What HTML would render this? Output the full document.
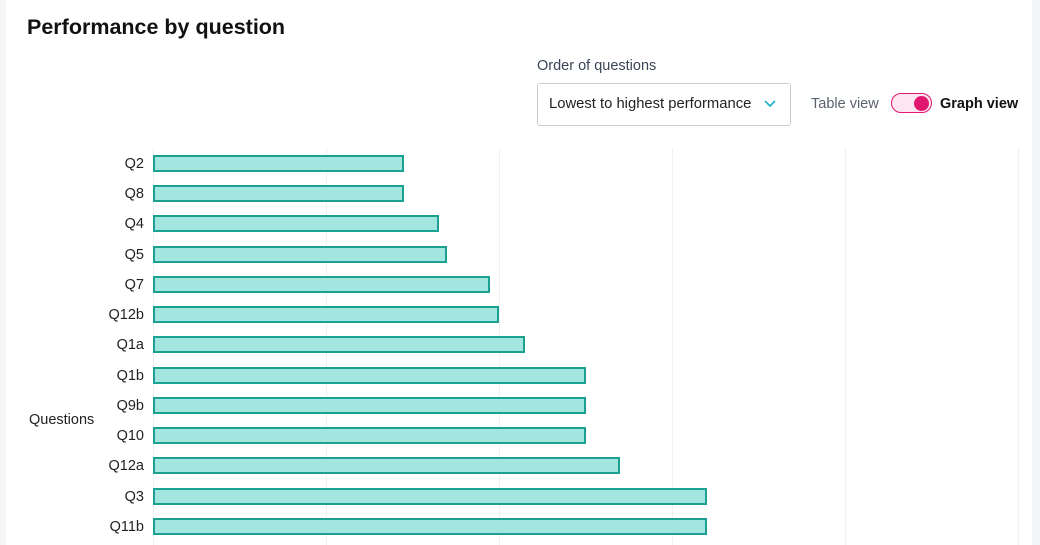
<!DOCTYPE html>
<html><head><style>
body{margin:0;width:1040px;height:545px;overflow:hidden;background:#f4f5f7;font-family:"Liberation Sans",sans-serif;position:relative}
.panel{position:absolute;left:6px;top:0;width:1026px;height:545px;background:#fff}
.a{position:absolute;white-space:nowrap}
.g{position:absolute;top:148px;height:397px;width:1px;background:#eef0f2}
.bar{position:absolute;left:153px;height:13px;background:#a3e5df;border:2px solid #1aa192;box-sizing:content-box}
.lab{position:absolute;right:896px;font-size:14.5px;color:#222;line-height:16px;margin-top:1px}
</style></head><body>
<div class="panel"></div>
<div class="a" style="left:27px;top:15px;font-size:21.5px;font-weight:bold;color:#111">Performance by question</div>
<div class="a" style="left:537px;top:58px;font-size:14.5px;color:#3a4556">Order of questions</div>
<div class="a" style="left:537px;top:83px;width:252px;height:41px;border:1px solid #c9ced6;border-radius:3px;box-sizing:content-box"></div>
<div class="a" style="left:549px;top:96px;font-size:14.8px;color:#222">Lowest to highest performance</div>
<svg class="a" style="left:764px;top:100px" width="12" height="8"><polyline points="1,1 6,6 11,1" fill="none" stroke="#1bb0c9" stroke-width="1.6"/></svg>
<div class="a" style="left:811px;top:96px;font-size:14.5px;color:#5a6270">Table view</div>
<div class="a" style="left:891px;top:93px;width:39px;height:18px;border:1.5px solid #e0166f;border-radius:11px;background:#fde6f0"></div>
<div class="a" style="left:914px;top:96px;width:15px;height:15px;border-radius:50%;background:#e0166f"></div>
<div class="a" style="left:940px;top:96px;font-size:14.5px;font-weight:bold;color:#111">Graph view</div>
<div class="g" style="left:153px"></div><div class="g" style="left:326px"></div><div class="g" style="left:499px"></div><div class="g" style="left:672px"></div><div class="g" style="left:845px"></div><div class="g" style="left:1018px"></div>
<div class="a" style="left:29px;top:412px;font-size:14.5px;color:#222">Questions</div>
<div class="bar" style="top:155px;width:247px"></div><div class="lab" style="top:155px">Q2</div>
<div class="bar" style="top:185px;width:247px"></div><div class="lab" style="top:185px">Q8</div>
<div class="bar" style="top:215px;width:282px"></div><div class="lab" style="top:215px">Q4</div>
<div class="bar" style="top:246px;width:290px"></div><div class="lab" style="top:246px">Q5</div>
<div class="bar" style="top:276px;width:333px"></div><div class="lab" style="top:276px">Q7</div>
<div class="bar" style="top:306px;width:342px"></div><div class="lab" style="top:306px">Q12b</div>
<div class="bar" style="top:336px;width:368px"></div><div class="lab" style="top:336px">Q1a</div>
<div class="bar" style="top:367px;width:429px"></div><div class="lab" style="top:367px">Q1b</div>
<div class="bar" style="top:397px;width:429px"></div><div class="lab" style="top:397px">Q9b</div>
<div class="bar" style="top:427px;width:429px"></div><div class="lab" style="top:427px">Q10</div>
<div class="bar" style="top:457px;width:463px"></div><div class="lab" style="top:457px">Q12a</div>
<div class="bar" style="top:488px;width:550px"></div><div class="lab" style="top:488px">Q3</div>
<div class="bar" style="top:518px;width:550px"></div><div class="lab" style="top:518px">Q11b</div>
</body></html>
